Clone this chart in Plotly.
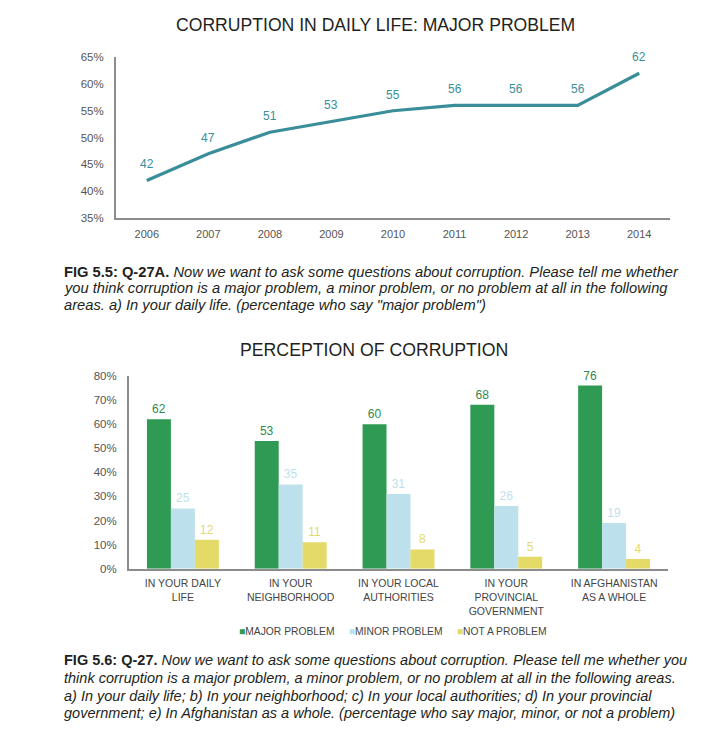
import plotly.graph_objects as go

# ---- data ----
years = ["2006", "2007", "2008", "2009", "2010", "2011", "2012", "2013", "2014"]
major_daily = [42, 47, 51, 53, 55, 56, 56, 56, 62]
line_ticks = [35, 40, 45, 50, 55, 60, 65]

areas = ["IN YOUR DAILY<br>LIFE", "IN YOUR<br>NEIGHBORHOOD", "IN YOUR LOCAL<br>AUTHORITIES",
         "IN YOUR<br>PROVINCIAL<br>GOVERNMENT", "IN AFGHANISTAN<br>AS A WHOLE"]
major = [62, 53, 60, 68, 76]
minor = [25, 35, 31, 26, 19]
not_problem = [12, 11, 8, 5, 4]
bar_ticks = [0, 10, 20, 30, 40, 50, 60, 70, 80]

series_names = ["MAJOR PROBLEM", "MINOR PROBLEM", "NOT A PROBLEM"]

caption1_lines = [
    "<b>FIG 5.5: Q-27A.</b> <i>Now we want to ask some questions about corruption. Please tell me whether</i>",
    "<i>you think corruption is a major problem, a minor problem, or no problem at all in the following</i>",
    "<i>areas. a) In your daily life. (percentage who say \"major problem\")</i>",
]
caption2_lines = [
    "<b>FIG 5.6: Q-27.</b> <i>Now we want to ask some questions about corruption. Please tell me whether you</i>",
    "<i>think corruption is a major problem, a minor problem, or no problem at all in the following areas.</i>",
    "<i>a) In your daily life; b) In your neighborhood; c) In your local authorities; d) In your provincial</i>",
    "<i>government; e) In Afghanistan as a whole. (percentage who say major, minor, or not a problem)</i>",
]

# ---- style ----
W, H = 723, 742
FONT = "Liberation Sans, Arial, sans-serif"
TEAL = "#3A8E99"
GREEN = "#2E9A53"
BLUE = "#BDE1EC"
YELLOW = "#E3DA68"
AXIS = "#8C8C8C"
TICK = "#555555"
TEXT = "#231F20"


def py(pix):
    return 1 - pix / H


fig = go.Figure()

# top line chart
fig.add_trace(go.Scatter(
    x=years, y=major_daily, mode="lines",
    line=dict(color=TEAL, width=3.2), showlegend=False,
    xaxis="x", yaxis="y", hoverinfo="x+y"))

# bottom grouped bars
for vals, name, col in zip([major, minor, not_problem], series_names, [GREEN, BLUE, YELLOW]):
    fig.add_trace(go.Bar(
        x=areas, y=vals, name=name, marker=dict(color=col, line=dict(width=0)),
        text=vals, textposition="outside", cliponaxis=False,
        textfont=dict(color=col if col != GREEN else "#2E8A4E", size=12, family=FONT),
        showlegend=False, xaxis="x2", yaxis="y2"))

annotations = []
# value labels on line (x given as category index)
for i, v in enumerate(major_daily):
    annotations.append(dict(x=i, y=v, xref="x", yref="y", text=str(v), showarrow=False,
                            yshift=16, font=dict(color=TEAL, size=12, family=FONT)))

# titles
annotations.append(dict(x=375 / W, y=py(19), xref="paper", yref="paper",
                        text="CORRUPTION IN DAILY LIFE: MAJOR PROBLEM", showarrow=False,
                        font=dict(size=17.6, color=TEXT, family=FONT), xanchor="center", yanchor="middle"))
annotations.append(dict(x=374 / W, y=py(350), xref="paper", yref="paper",
                        text="PERCEPTION OF CORRUPTION", showarrow=False,
                        font=dict(size=17.7, color=TEXT, family=FONT), xanchor="center", yanchor="middle"))

# captions, one annotation per line
for line, ypix in zip(caption1_lines, [270, 287, 304]):
    annotations.append(dict(x=62 / W, y=py(ypix), xref="paper", yref="paper", text=line, showarrow=False,
                            align="left", xanchor="left", yanchor="middle",
                            font=dict(size=14.7, color=TEXT, family=FONT)))
for line, ypix in zip(caption2_lines, [665, 683, 701, 718.5]):
    annotations.append(dict(x=62 / W, y=py(ypix), xref="paper", yref="paper", text=line, showarrow=False,
                            align="left", xanchor="left", yanchor="middle",
                            font=dict(size=14.5, color=TEXT, family=FONT)))

# legend
legend_txt = "&nbsp;&nbsp;&nbsp;&nbsp;&nbsp;".join(
    f"<span style='color:{c}'>■</span>{n}" for n, c in zip(series_names, [GREEN, BLUE, YELLOW]))
annotations.append(dict(x=392 / W, y=py(636), xref="paper", yref="paper", text=legend_txt,
                        showarrow=False, xanchor="center", yanchor="middle",
                        font=dict(size=10.3, color="#444444", family=FONT)))

fig.update_layout(
    width=W, height=H, margin=dict(l=0, r=0, t=0, b=0),
    paper_bgcolor="white", plot_bgcolor="white",
    font=dict(family=FONT, color=TICK),
    barmode="group", bargap=0.333, bargroupgap=0,
    xaxis=dict(domain=[116 / W, 670 / W], type="category", range=[-0.5, len(years) - 0.5],
               showline=True, linecolor=AXIS, linewidth=2,
               showgrid=False, zeroline=False, ticks="outside", ticklen=5, tickcolor="rgba(0,0,0,0)",
               tickfont=dict(size=11, color=TICK), anchor="y"),
    yaxis=dict(domain=[py(215.5), py(52)], range=[35, 65], tickmode="array", tickvals=line_ticks,
               ticktext=[f"{t}%" for t in line_ticks],
               showline=True, linecolor=AXIS, linewidth=2, showgrid=False, zeroline=False,
               ticks="outside", ticklen=8, tickcolor="rgba(0,0,0,0)", tickfont=dict(size=11.5, color=TICK),
               anchor="x"),
    xaxis2=dict(domain=[129 / W, 668 / W], type="category", showline=True, linecolor=AXIS, linewidth=2,
                showgrid=False, zeroline=False, ticks="outside", ticklen=4, tickcolor="rgba(0,0,0,0)",
                tickfont=dict(size=10.5, color="#444444"), anchor="y2"),
    yaxis2=dict(domain=[py(572), py(376)], range=[0, 80], tickmode="array", tickvals=bar_ticks,
                ticktext=[f"{t}%" for t in bar_ticks],
                showline=True, linecolor=AXIS, linewidth=2, showgrid=False, zeroline=False,
                ticks="outside", ticklen=8, tickcolor="rgba(0,0,0,0)", tickfont=dict(size=11.5, color=TICK),
                anchor="x2"),
    annotations=annotations,
)

fig.write_html("out.html", post_script="document.body.style.margin='0';",
               config={"displayModeBar": False})
